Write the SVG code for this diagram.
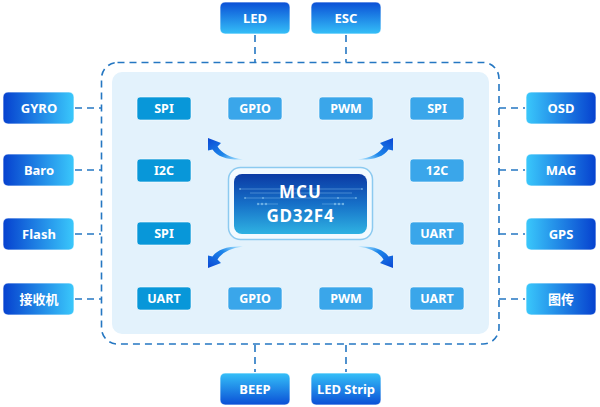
<svg xmlns="http://www.w3.org/2000/svg" width="600" height="407" viewBox="0 0 600 407">
<defs>
<linearGradient id="gL" x1="0" y1="0" x2="1" y2="0"><stop offset="0" stop-color="#0641cf"/><stop offset="1" stop-color="#3ac8fb"/></linearGradient>
<linearGradient id="gR" x1="1" y1="0" x2="0" y2="0"><stop offset="0" stop-color="#0641cf"/><stop offset="1" stop-color="#3ac8fb"/></linearGradient>
<linearGradient id="gT" x1="0" y1="0" x2="0" y2="1"><stop offset="0" stop-color="#0a4fd6"/><stop offset="1" stop-color="#35c0f8"/></linearGradient>
<linearGradient id="gB" x1="0" y1="1" x2="0" y2="0"><stop offset="0" stop-color="#0a4fd6"/><stop offset="1" stop-color="#35c0f8"/></linearGradient>
<linearGradient id="gMcu" x1="0" y1="0" x2="0" y2="1"><stop offset="0" stop-color="#0b3aa4"/><stop offset="0.5" stop-color="#1670c8"/><stop offset="1" stop-color="#2fb2e2"/></linearGradient>
<linearGradient id="gArr" x1="0" y1="0" x2="1" y2="1"><stop offset="0" stop-color="#0a48d4"/><stop offset="0.6" stop-color="#1d86ea"/><stop offset="1" stop-color="#5cc8ff" stop-opacity="0.4"/></linearGradient>
<path id="arr" d="M0,0 L13,5 L9.5,8.5 Q16,19 35,21.5 Q12,22.5 4.5,11.5 L0,12.5 Z" fill="url(#gArr)"/>
</defs>
<style>
.n rect{stroke:#ffffff;stroke-opacity:.7;stroke-width:1}
.t{font-family:"Noto Sans","Noto Sans CJK SC",sans-serif;font-weight:bold;fill:#ffffff;text-anchor:middle}
.nt{font-size:13px}
.st{font-size:12.5px}
.dk{fill:#0897d9;stroke:#ffffff;stroke-opacity:.6;stroke-width:1}
.lt{fill:#3aa6ea;stroke:#ffffff;stroke-opacity:.6;stroke-width:1}
.d{fill:none;stroke:#2577c2;stroke-width:1.6;stroke-dasharray:7 5}
.c{fill:none;stroke:#9fd6f6;stroke-width:0.7;opacity:.55}
</style>
<rect x="112" y="72" width="377" height="262" rx="10" fill="#e3f2fc"/>
<g id="connectors">
<rect class="d" x="101.5" y="62.5" width="397.5" height="281.5" rx="16"/>
<line class="d" x1="255" y1="35" x2="255" y2="62"/>
<line class="d" x1="346" y1="35" x2="346" y2="62"/>
<line class="d" x1="255" y1="345" x2="255" y2="372"/>
<line class="d" x1="346" y1="345" x2="346" y2="372"/>
<line class="d" x1="75" y1="108" x2="101" y2="108"/>
<line class="d" x1="75" y1="170" x2="101" y2="170"/>
<line class="d" x1="75" y1="234" x2="101" y2="234"/>
<line class="d" x1="75" y1="299" x2="101" y2="299"/>
<line class="d" x1="499" y1="108" x2="525" y2="108"/>
<line class="d" x1="499" y1="170" x2="525" y2="170"/>
<line class="d" x1="499" y1="234" x2="525" y2="234"/>
<line class="d" x1="499" y1="299" x2="525" y2="299"/>
</g>
<g id="node-led" class="n"><rect x="220" y="2" width="70" height="32" rx="5" fill="url(#gT)"/><text class="t nt" x="255" y="23">LED</text></g>
<g id="node-esc" class="n"><rect x="311" y="2" width="70" height="32" rx="5" fill="url(#gT)"/><text class="t nt" x="346" y="23">ESC</text></g>
<g id="node-beep" class="n"><rect x="220" y="373" width="70" height="32" rx="5" fill="url(#gB)"/><text class="t nt" x="255" y="394">BEEP</text></g>
<g id="node-ledstrip" class="n"><rect x="311" y="373" width="70" height="32" rx="5" fill="url(#gB)"/><text class="t nt" x="346" y="394">LED Strip</text></g>
<g id="node-gyro" class="n"><rect x="3" y="92" width="71" height="32" rx="5" fill="url(#gL)"/><text class="t nt" x="39" y="113">GYRO</text></g>
<g id="node-baro" class="n"><rect x="3" y="154" width="71" height="32" rx="5" fill="url(#gL)"/><text class="t nt" x="39" y="175">Baro</text></g>
<g id="node-flash" class="n"><rect x="3" y="218" width="71" height="32" rx="5" fill="url(#gL)"/><text class="t nt" x="39" y="239">Flash</text></g>
<g id="node-rx" class="n"><rect x="3" y="283" width="71" height="32" rx="5" fill="url(#gL)"/><text class="t nt" x="39" y="304">接收机</text></g>
<g id="node-osd" class="n"><rect x="526" y="92" width="70" height="32" rx="5" fill="url(#gR)"/><text class="t nt" x="561" y="113">OSD</text></g>
<g id="node-mag" class="n"><rect x="526" y="154" width="70" height="32" rx="5" fill="url(#gR)"/><text class="t nt" x="561" y="175">MAG</text></g>
<g id="node-gps" class="n"><rect x="526" y="218" width="70" height="32" rx="5" fill="url(#gR)"/><text class="t nt" x="561" y="239">GPS</text></g>
<g id="node-vtx" class="n"><rect x="526" y="283" width="70" height="32" rx="5" fill="url(#gR)"/><text class="t nt" x="561" y="304">图传</text></g>
<g id="if-spi1"><rect class="dk" x="137" y="97" width="54" height="23" rx="3"/><text class="t st" x="164" y="113">SPI</text></g>
<g id="if-gpio1"><rect class="lt" x="228" y="97" width="54" height="23" rx="3"/><text class="t st" x="255" y="113">GPIO</text></g>
<g id="if-pwm1"><rect class="lt" x="319" y="97" width="54" height="23" rx="3"/><text class="t st" x="346" y="113">PWM</text></g>
<g id="if-spi2"><rect class="lt" x="410" y="97" width="54" height="23" rx="3"/><text class="t st" x="437" y="113">SPI</text></g>
<g id="if-i2c"><rect class="dk" x="137" y="159" width="54" height="23" rx="3"/><text class="t st" x="164" y="175">I2C</text></g>
<g id="if-12c"><rect class="lt" x="410" y="159" width="54" height="23" rx="3"/><text class="t st" x="437" y="175">12C</text></g>
<g id="if-spi3"><rect class="dk" x="137" y="222" width="54" height="23" rx="3"/><text class="t st" x="164" y="238">SPI</text></g>
<g id="if-uart1"><rect class="lt" x="410" y="222" width="54" height="23" rx="3"/><text class="t st" x="437" y="238">UART</text></g>
<g id="if-uart2"><rect class="dk" x="137" y="287" width="54" height="23" rx="3"/><text class="t st" x="164" y="303">UART</text></g>
<g id="if-gpio2"><rect class="lt" x="228" y="287" width="54" height="23" rx="3"/><text class="t st" x="255" y="303">GPIO</text></g>
<g id="if-pwm2"><rect class="lt" x="319" y="287" width="54" height="23" rx="3"/><text class="t st" x="346" y="303">PWM</text></g>
<g id="if-uart3"><rect class="lt" x="410" y="287" width="54" height="23" rx="3"/><text class="t st" x="437" y="303">UART</text></g>
<g id="arrows">
<use href="#arr" transform="translate(208,138)"/>
<use href="#arr" transform="translate(393,138) scale(-1,1)"/>
<use href="#arr" transform="translate(208,268) scale(1,-1)"/>
<use href="#arr" transform="translate(393,268) scale(-1,-1)"/>
</g>
<g id="mcu">
<rect x="228.5" y="167.5" width="144" height="72" rx="12" fill="#f3faff" stroke="#8ccaf0" stroke-width="1.5"/>
<rect x="234" y="174" width="133" height="60" rx="8" fill="url(#gMcu)"/>
<path class="c" d="M240,189 H362 M250,193 H352 M245,198 H356 M258,204 H278 M322,204 H344"/>
<g fill="#9fd6f6" opacity=".55"><circle cx="240" cy="189" r="1"/><circle cx="362" cy="189" r="1"/><circle cx="245" cy="198" r="1"/><circle cx="356" cy="198" r="1"/><circle cx="263" cy="198" r="1"/><circle cx="338" cy="198" r="1"/><circle cx="258" cy="204" r="1.2"/><circle cx="262" cy="204" r="1.2"/><circle cx="266" cy="204" r="1.2"/><circle cx="335" cy="204" r="1.2"/><circle cx="339" cy="204" r="1.2"/><circle cx="343" cy="204" r="1.2"/></g>
<text class="t" x="300.5" y="198" font-size="17" letter-spacing="1">MCU</text>
<text class="t" x="300.5" y="222" font-size="17" letter-spacing="0.8">GD32F4</text>
</g>
</svg>
